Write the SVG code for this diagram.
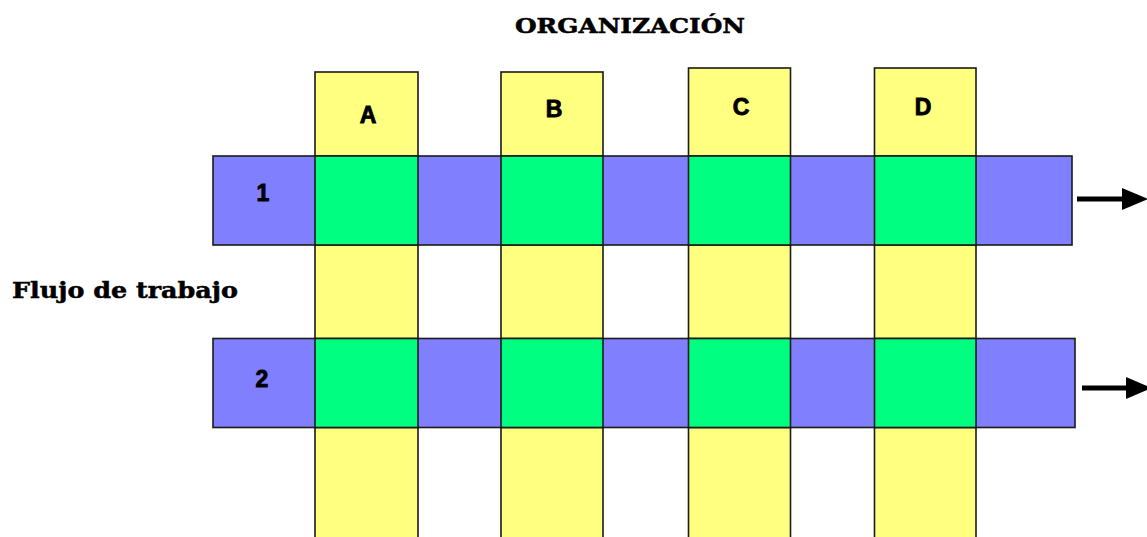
<svg xmlns="http://www.w3.org/2000/svg" width="1147" height="537" viewBox="0 0 1147 537">
<style>
.col{fill:#FFFF80;stroke:#1a1a1a;stroke-width:1.6}
.row{fill:#8080FF;stroke:#1a1a1a;stroke-width:1.6}
.cell{fill:#00FF80;stroke:#1a1a1a;stroke-width:1.6}
.lbl{font-family:"Liberation Sans",Arial,sans-serif;font-weight:bold;font-size:23px;fill:#000;stroke:#000;stroke-width:0.9;text-anchor:middle}
.ttl{font-family:"DejaVu Serif","Liberation Serif",serif;font-weight:bold;fill:#000;stroke:#000;stroke-width:0.5}
.arr{stroke:#000;stroke-width:5;fill:none}
</style>
<defs>
<marker id="ah" markerUnits="userSpaceOnUse" markerWidth="27" markerHeight="23" refX="0" refY="11" orient="auto">
<path d="M0,0 L26,11 L0,22 Z" fill="#000"/>
</marker>
</defs>
<rect width="1147" height="537" fill="#fff"/>
<text class="ttl" x="515" y="33" font-size="21" textLength="230" lengthAdjust="spacingAndGlyphs">ORGANIZACIÓN</text>
<text class="ttl" x="12" y="298" font-size="22" textLength="226" lengthAdjust="spacingAndGlyphs">Flujo de trabajo</text>
<g id="colA"><rect class="col" x="315" y="72" width="103" height="470"/><text class="lbl" x="368" y="123">A</text></g>
<g id="colB"><rect class="col" x="501" y="72" width="102" height="470"/><text class="lbl" x="554" y="117">B</text></g>
<g id="colC"><rect class="col" x="688.5" y="68" width="102" height="474"/><text class="lbl" x="741" y="115">C</text></g>
<g id="colD"><rect class="col" x="874.5" y="68" width="101.5" height="474"/><text class="lbl" x="923" y="115">D</text></g>
<g id="row1">
<rect class="row" x="213" y="156" width="859" height="89"/>
<text class="lbl" x="263" y="201">1</text>
<rect class="cell" x="315" y="156" width="103" height="89"/>
<rect class="cell" x="501" y="156" width="102" height="89"/>
<rect class="cell" x="688.5" y="156" width="102" height="89"/>
<rect class="cell" x="874.5" y="156" width="101.5" height="89"/>
</g>
<g id="row2">
<rect class="row" x="213" y="338.5" width="862" height="89"/>
<text class="lbl" x="262" y="387">2</text>
<rect class="cell" x="315" y="338.5" width="103" height="89"/>
<rect class="cell" x="501" y="338.5" width="102" height="89"/>
<rect class="cell" x="688.5" y="338.5" width="102" height="89"/>
<rect class="cell" x="874.5" y="338.5" width="101.5" height="89"/>
</g>
<g id="connectors">
<line class="arr" x1="1077" y1="199" x2="1122" y2="199" marker-end="url(#ah)"/>
<line class="arr" x1="1082" y1="388" x2="1126" y2="388" marker-end="url(#ah)"/>
</g>
</svg>
